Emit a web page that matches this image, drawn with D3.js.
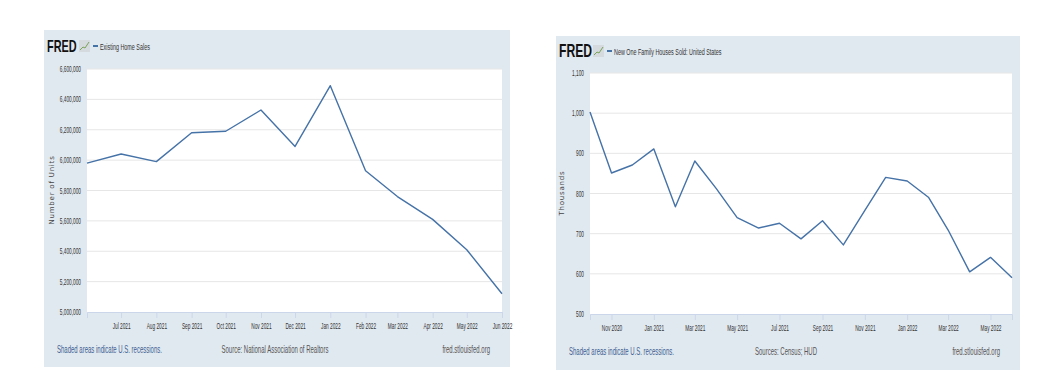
<!DOCTYPE html>
<html>
<head>
<meta charset="utf-8">
<script src="https://cdn.jsdelivr.net/npm/d3@7"></script>
<style>
  body { margin:0; background:#fff; }
  svg text { font-family: "Liberation Sans", Arial, sans-serif; }
</style>
</head>
<body>
<svg id="chart" width="1042" height="392"></svg>
<script>
// existing home sales, Jun 2021 - Jun 2022
const salesMonths = ["2021-06","2021-07","2021-08","2021-09","2021-10","2021-11","2021-12",
  "2022-01","2022-02","2022-03","2022-04","2022-05","2022-06"];
const salesValues = [5980000,6040000,5990000,6180000,6190000,6330000,6090000,
  6490000,5930000,5760000,5610000,5410000,5120000];
const salesTicks = [5000000,5200000,5400000,5600000,5800000,6000000,6200000,6400000,6600000];
const salesXTicks = ["2021-07","2021-08","2021-09","2021-10","2021-11","2021-12",
  "2022-01","2022-02","2022-03","2022-04","2022-05","2022-06"];

// new one family houses sold, Oct 2020 - Jun 2022 (thousands)
const newMonths = ["2020-10","2020-11","2020-12","2021-01","2021-02","2021-03","2021-04",
  "2021-05","2021-06","2021-07","2021-08","2021-09","2021-10","2021-11","2021-12",
  "2022-01","2022-02","2022-03","2022-04","2022-05","2022-06"];
const newValues = [1003,851,871,911,767,881,812,740,714,726,687,732,672,758,840,
  831,790,709,605,641,590];
const newTicks = [500,600,700,800,900,1000,1100];
const newXTicks = ["2020-11","2021-01","2021-03","2021-05","2021-07","2021-09",
  "2021-11","2022-01","2022-03","2022-05"];

const parse = d3.timeParse("%Y-%m");
const svg = d3.select("#chart");

// text squeezed horizontally, the original uses a narrow face
function txt(g, x, y, s, size, sq, fill, anchor) {
  return g.append("text")
    .attr("transform", `translate(${x},${y}) scale(${sq},1)`)
    .attr("font-size", size).attr("fill", fill)
    .attr("text-anchor", anchor || "start")
    .text(s);
}

function drawPanel(c) {
  const g = svg.append("g");
  g.append("rect").attr("x", c.x0).attr("y", c.y0).attr("width", c.x1 - c.x0).attr("height", c.y1 - c.y0)
    .attr("fill", "#e1e9f0");

  const dates = c.months.map(parse);
  const x = d3.scaleTime().domain(d3.extent(dates)).range([c.pl, c.pr]);
  const y = d3.scaleLinear().domain(c.yDomain).range([c.pb, c.pt]);

  g.append("rect").attr("x", c.pl).attr("y", c.pt).attr("width", c.pr - c.pl).attr("height", c.pb - c.pt)
    .attr("fill", "#fff");

  // gridlines
  g.append("g").selectAll("line").data(c.yTicks.slice(1)).join("line")
    .attr("x1", c.pl).attr("x2", c.pr)
    .attr("y1", d => y(d)).attr("y2", d => y(d))
    .attr("stroke", "#e6e6e6").attr("stroke-width", 1);

  // y labels
  c.yTicks.forEach(d => txt(g, c.pl - 6, y(d) + 3, d3.format(",")(d), 8.5, 0.56, "#333", "end"));

  // x axis
  const xa = g.append("g").attr("transform", `translate(0,${c.pb})`)
    .call(d3.axisBottom(x).tickValues(c.xTicks.map(parse)).tickSize(6).tickPadding(5)
      .tickFormat(d3.timeFormat("%b %Y")));
  xa.select(".domain").attr("stroke", "#ccd6eb");
  xa.selectAll(".tick line").attr("stroke", "#ccd6eb");
  xa.selectAll(".tick text").attr("font-size", 8.5).attr("fill", "#333")
    .attr("transform", "scale(0.56,1)")
    .style("font-family", '"Liberation Sans", Arial, sans-serif');

  // series
  const line = d3.line().x((d, i) => x(dates[i])).y(d => y(d));
  g.append("path").datum(c.values).attr("d", line)
    .attr("fill", "none").attr("stroke", "#4572a7").attr("stroke-width", 1.4)
    .attr("stroke-linejoin", "round");

  // y title
  g.append("text").attr("transform", `translate(${c.ytx},${c.yty}) rotate(-90)`)
    .attr("text-anchor", "middle").attr("font-size", 7).attr("fill", "#444")
    .attr("letter-spacing", 0.8)
    .style("font-family", '"DejaVu Sans", sans-serif')
    .text(c.yTitle);

  // header: FRED logo + legend
  txt(g, c.lx, c.hy + 6, "FRED", c.logoSize, 0.64, "#111").attr("font-weight", "bold");
  const ix = c.ix, iy = c.hy - 6;
  g.append("rect").attr("x", ix).attr("y", iy).attr("width", 11).attr("height", 12).attr("fill", "#d5dade");
  g.append("polyline").attr("points", `${ix+1},${iy+10} ${ix+4},${iy+7} ${ix+6},${iy+8} ${ix+10},${iy+2}`)
    .attr("fill", "none").attr("stroke", "#7aa25a").attr("stroke-width", 1);
  g.append("line").attr("x1", ix + 14).attr("x2", ix + 19).attr("y1", c.hy).attr("y2", c.hy)
    .attr("stroke", "#4572a7").attr("stroke-width", 2);
  txt(g, ix + 21, c.hy + 3.5, c.title, 9.5, 0.57, "#333");

  // footer
  txt(g, c.x0 + 13, c.fy, "Shaded areas indicate U.S. recessions.", 10, 0.6, "#3e5f92");
  txt(g, c.srcX, c.fy, c.source, 10, 0.6, "#555", "middle");
  txt(g, c.x1 - 20, c.fy, "fred.stlouisfed.org", 10, 0.6, "#555", "end");
}

drawPanel({
  x0: 44, x1: 510, y0: 30, y1: 367,
  pl: 87, pr: 502, pt: 69, pb: 312,
  months: salesMonths, values: salesValues,
  yDomain: [5000000, 6600000], yTicks: salesTicks, xTicks: salesXTicks,
  yTitle: "Number of Units", ytx: 54, yty: 190,
  title: "Existing Home Sales", hy: 46, lx: 47, ix: 79, logoSize: 17,
  fy: 353,
  source: "Source: National Association of Realtors", srcX: 275
});

drawPanel({
  x0: 556, x1: 1020, y0: 36, y1: 370,
  pl: 590, pr: 1012, pt: 73, pb: 314,
  months: newMonths, values: newValues,
  yDomain: [500, 1100], yTicks: newTicks, xTicks: newXTicks,
  yTitle: "Thousands", ytx: 564, yty: 193,
  title: "New One Family Houses Sold: United States", hy: 51, lx: 559, ix: 593, logoSize: 19,
  fy: 355,
  source: "Sources: Census; HUD", srcX: 786
});
</script>
</body>
</html>
